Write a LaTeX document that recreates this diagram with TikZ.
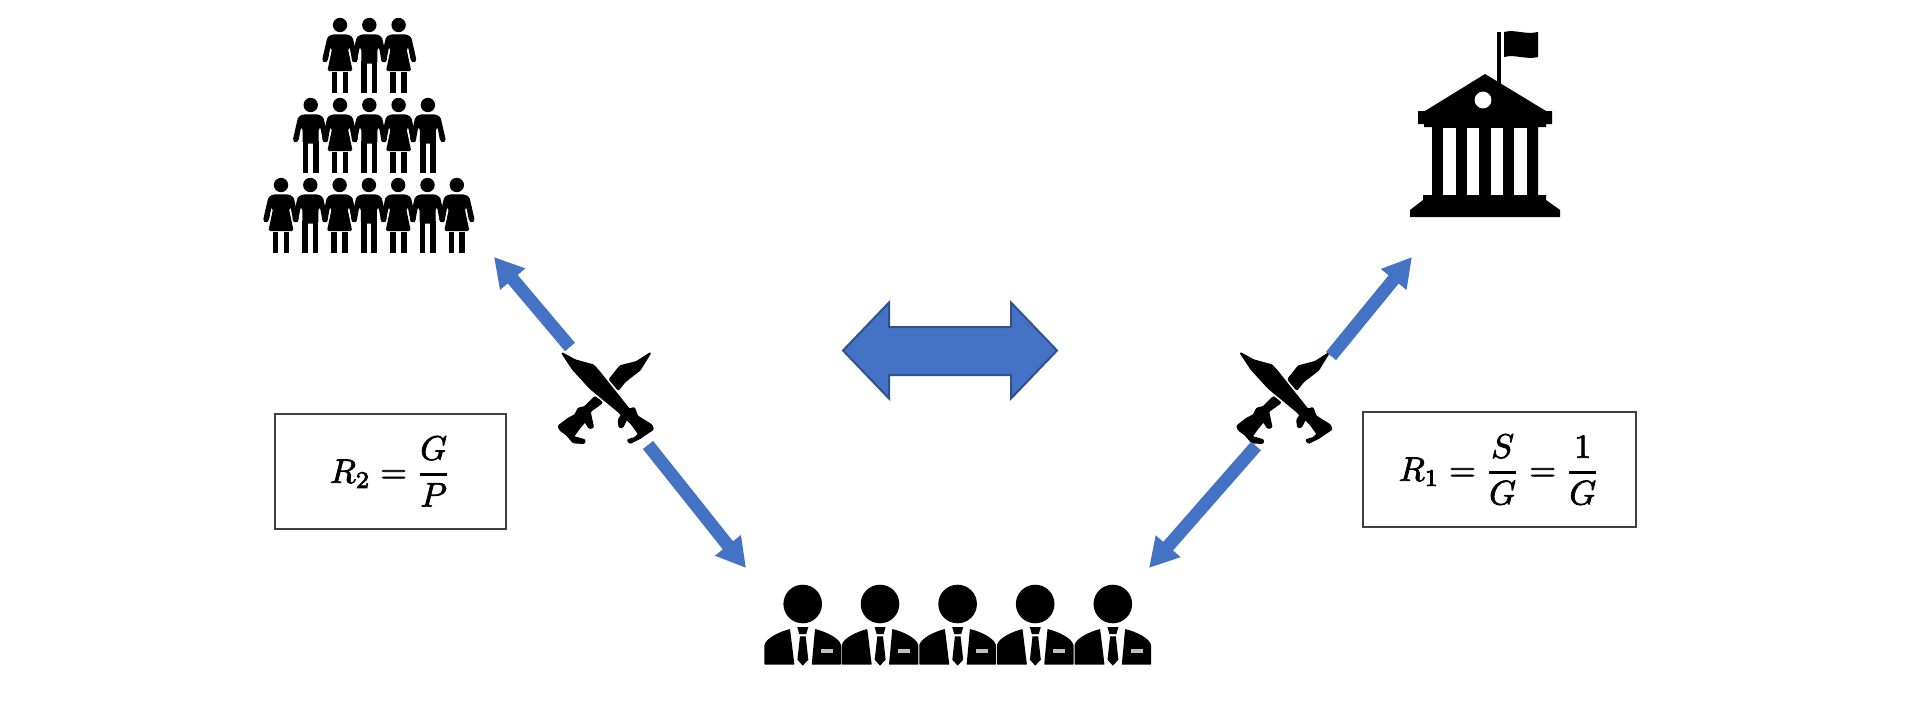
\documentclass[tikz,border=0pt]{standalone}
\usepackage{graphicx}
\usetikzlibrary{arrows.meta}
\definecolor{arrowblue}{HTML}{4472C4}
\definecolor{arrowedge}{HTML}{2F528F}
\definecolor{boxedge}{HTML}{404040}
\newcommand{\heavy}[1]{\special{pdf:code q 2 Tr 0.22 w}#1\special{pdf:code Q}}
\newcommand{\eqfr}[2]{{#1\above 0.75pt #2}}
\tikzset{
  x=1pt,y=-1pt,
  link/.style={arrowblue,line width=13pt,-{Triangle[length=29pt,width=31pt]}},
  eqbox/.style={draw=boxedge,line width=1.6pt,fill=white,inner sep=0pt,minimum height=115pt},
  glyph/.style={draw=black,fill=black,line width=1.4pt,line join=round},
  woman/.pic={
    \fill (0,0) circle (7.2pt);
    \fill[rounded corners=1.6pt] (0,9.3) -- (-7.5,9.3) -- (-12.6,12) -- (-18,35.5) -- (-15,38) -- (-12.2,35.8) -- (-9.6,22) -- (-8,24) -- (-12.6,46) -- (12.6,46) -- (8,24) -- (9.6,22) -- (12.2,35.8) -- (15,38) -- (18,35.5) -- (12.6,12) -- (7.5,9.3) -- cycle;
    \fill (-8.3,46.6) rectangle (-2.6,68);
    \fill (2.6,46.6) rectangle (8.3,68);
  },
  man/.pic={
    \fill (0,0) circle (7.2pt);
    \fill[rounded corners=1.6pt] (0,9.3) -- (-7.5,9.3) -- (-12.6,12) -- (-18,35.5) -- (-15,38) -- (-12.2,35.8) -- (-9.6,22) -- (-8,24) -- (-8,38.5) -- (8,38.5) -- (8,24) -- (9.6,22) -- (12.2,35.8) -- (15,38) -- (18,35.5) -- (12.6,12) -- (7.5,9.3) -- cycle;
    \fill (-8,36) rectangle (-2.3,68);
    \fill (2.3,36) rectangle (8,68);
  },
  suited/.pic={
    \fill (0,0) circle (19.3pt);
    \fill[rounded corners=0.6pt] (-38.3,60.7) -- (-38.3,41) .. controls (-36,34) and (-24,28) .. (-12.7,25) -- (-8.3,60.7) -- cycle;
    \fill[rounded corners=0.6pt] (38.3,60.7) -- (38.3,41) .. controls (36,34) and (24,28) .. (12.3,25) -- (9,60.7) -- cycle;
    \fill (-5.4,23) -- (5.6,23) -- (3.6,30) -- (-3.4,30) -- cycle;
    \fill (-2.7,32.3) -- (3,32.3) -- (5.6,55.7) -- (0,61.6) -- (-5.3,55.7) -- cycle;
    \fill[black!25] (18,45.3) rectangle (30,48.7);
  },
  crossed/.pic={
    \begin{scope}[x=0.3333pt,y=-0.3333pt]
    \path[glyph,rounded corners=1pt] (65,38) -- (105,60) -- (160,75) -- (178,95) -- (268,208) -- (283,203) -- (292,228) -- (335,255) -- (340,268) -- (325,278) -- (310,288) -- (300,295) -- (270,310) -- (262,300) -- (285,293) -- (296,282) -- (276,254) -- (260,238) -- (248,262) -- (238,262) -- (235,240) -- (245,225) -- (235,215) -- (150,145) -- (98,88) -- cycle;
    \path[glyph,rounded corners=1pt] (332,38) -- (290,65) -- (240,78) -- (208,118) -- (235,150) -- (255,125) -- (300,90) -- cycle;
    \path[glyph,rounded corners=1pt] (165,170) -- (187,188) -- (150,215) -- (160,262) -- (148,265) -- (135,245) -- (118,265) -- (100,290) -- (135,300) -- (133,310) -- (100,308) -- (80,285) -- (60,270) -- (55,258) -- (85,235) -- (105,225) -- (115,205) -- (135,200) -- cycle;
    \end{scope}
  },
}
\begin{document}
\begin{tikzpicture}
\useasboundingbox (0,0) rectangle (1918,704);
\fill[white] (0,0) rectangle (1918,704);

% crowd
\foreach \px/\kind/\py in {340/woman/25,369.3/man/25,398.6/woman/25,
  310.7/man/105,340/woman/105,369.3/man/105,398.6/woman/105,427.9/man/105,
  281/woman/185,310.3/man/185,339.6/woman/185,368.9/man/185,398.2/woman/185,427.5/man/185,456.8/woman/185}
  \pic at (\px,\py) {\kind};

% government building
\fill (1497,32) rectangle (1500.8,84);
\fill (1504,32) .. controls (1515,29) and (1525,35) .. (1538,32) -- (1538,57) .. controls (1526,60) and (1515,54) .. (1504,57) -- cycle;
\fill (1485,74) -- (1546,111) -- (1552,111) -- (1552,124) -- (1546,124) -- (1546,127) -- (1538,127) -- (1538,195) -- (1546,195) -- (1546,200) -- (1560,210) -- (1560,217) -- (1410,217) -- (1410,210) -- (1423,200) -- (1423,195) -- (1432,195) -- (1432,127) -- (1424,127) -- (1424,124) -- (1418,124) -- (1418,111) -- (1425,111) -- cycle;
\fill[white] (1483,100) circle (8.4pt);
\fill[white] (1443,128) rectangle (1456,195);
\fill[white] (1467,128) rectangle (1479,195);
\fill[white] (1491,128) rectangle (1503,195);
\fill[white] (1514,128) rectangle (1527,195);

% officials
\foreach \px in {802.7,880,957.6,1035.2,1112.8}
  \pic at (\px,604) {suited};

% crossed swords
\pic at (540,340) {crossed};
\pic at (1218.5,340) {crossed};

% connector ends
\coordinate (crowdend) at (494,257);
\coordinate (leftupper) at (570,347);
\coordinate (leftlower) at (648,445);
\coordinate (officialsL) at (746,568);
\coordinate (govend) at (1412,257);
\coordinate (rightupper) at (1331,356);
\coordinate (rightlower) at (1256,446);
\coordinate (officialsR) at (1149,568);

\draw[link] (leftupper) -- (crowdend);
\draw[link] (leftlower) -- (officialsL);
\draw[link] (rightupper) -- (govend);
\draw[link] (rightlower) -- (officialsR);

% central double arrow
\draw[arrowedge,fill=arrowblue,line width=2pt,miter limit=10]
  (843,350.5) -- (889,302.5) -- (889,327) -- (1011,327) -- (1011,302.5) -- (1057,350.5)
  -- (1011,398.5) -- (1011,375) -- (889,375) -- (889,398.5) -- cycle;

% equations
\node[eqbox,minimum width=231pt] (eqleft) at (390.5,471.5)
  {\scalebox{3.4}{\heavy{$\displaystyle R_2=\eqfr{G}{P}$}}};
\node[eqbox,minimum width=273pt] (eqright) at (1499.5,469.5)
  {\scalebox{3.4}{\heavy{$\displaystyle R_1=\eqfr{S}{G}=\eqfr{1}{G}$}}};
\end{tikzpicture}
\end{document}
